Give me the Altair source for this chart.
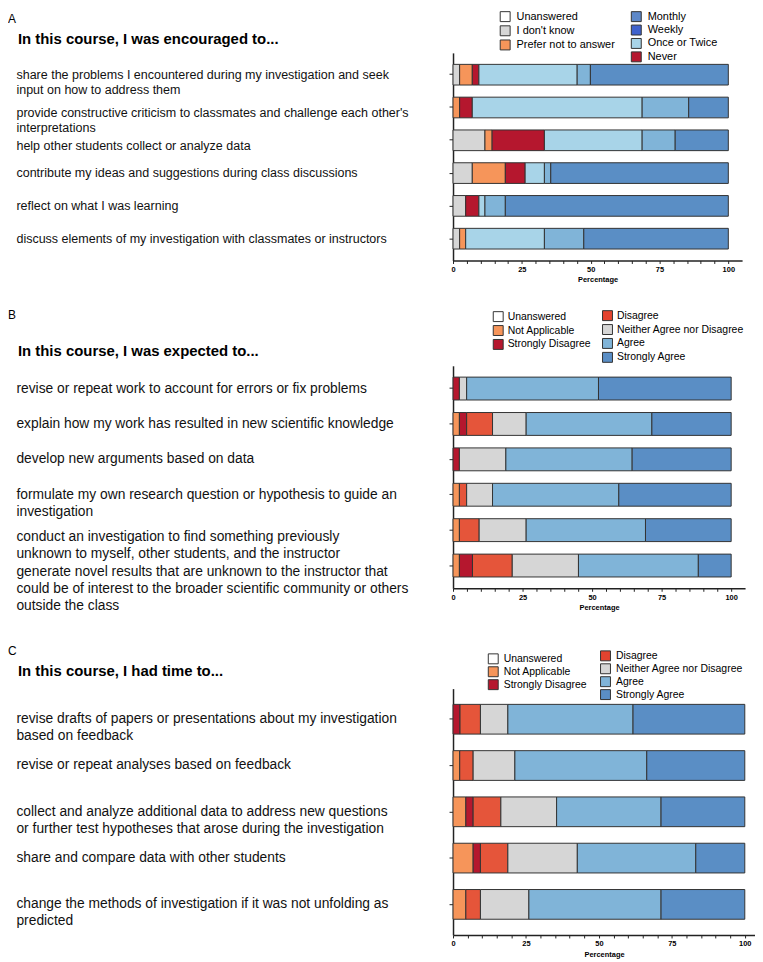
import json
import altair as alt
import pandas as pd

FONT = "Liberation Sans"

# ---------------- Panel A data ----------------
a_title = "In this course, I was encouraged to..."
a_items = [
    "share the problems I encountered during my investigation and seek\ninput on how to address them",
    "provide constructive criticism to classmates and challenge each other's\ninterpretations",
    "help other students collect or analyze data",
    "contribute my ideas and suggestions during class discussions",
    "reflect on what I was learning",
    "discuss elements of my investigation with classmates or instructors",
]
a_cats = ["Unanswered", "I don't know", "Prefer not to answer", "Never",
          "Once or Twice", "Weekly", "Monthly"]
a_unanswered = [0, 0, 0, 0, 0, 0]
a_dont_know = [2.4, 0, 11.6, 7.0, 4.6, 2.4]
a_prefer_not = [4.6, 2.4, 2.6, 12.0, 0, 2.2]
a_never = [2.4, 4.6, 19.0, 7.2, 4.8, 0]
a_once_twice = [35.7, 61.7, 35.5, 7.0, 2.2, 28.6]
a_weekly = [4.8, 16.9, 12.0, 2.3, 7.4, 14.3]
a_monthly = [50.1, 14.4, 19.3, 64.5, 81.0, 52.5]
a_legend_left = ["Unanswered", "I don't know", "Prefer not to answer"]
a_legend_right = ["Monthly", "Weekly", "Once or Twice", "Never"]

# ---------------- Panel B data ----------------
b_title = "In this course, I was expected to..."
b_items = [
    "revise or repeat work to account for errors or fix problems",
    "explain how my work has resulted in new scientific knowledge",
    "develop new arguments based on data",
    "formulate my own research question or hypothesis to guide an\ninvestigation",
    "conduct an investigation to find something previously\nunknown to myself, other students, and the instructor",
    "generate novel results that are unknown to the instructor that\ncould be of interest to the broader scientific community or others\noutside the class",
]
likert_cats = ["Unanswered", "Not Applicable", "Strongly Disagree", "Disagree",
               "Neither Agree nor Disagree", "Agree", "Strongly Agree"]
b_unanswered = [0, 0, 0, 0, 0, 0]
b_not_applicable = [0, 2.3, 0, 2.3, 2.3, 2.3]
b_strongly_disagree = [2.3, 2.6, 2.3, 0, 0, 4.7]
b_disagree = [0, 9.3, 0, 2.6, 7.1, 14.3]
b_neither = [2.6, 12.1, 16.7, 9.3, 16.9, 23.8]
b_agree = [47.4, 45.2, 45.4, 45.4, 42.9, 43.1]
b_strongly_agree = [47.7, 28.5, 35.6, 40.4, 30.8, 11.8]

# ---------------- Panel C data ----------------
c_title = "In this course, I had time to..."
c_items = [
    "revise drafts of papers or presentations about my investigation\nbased on feedback",
    "revise or repeat analyses based on feedback",
    "collect and analyze additional data to address new questions\nor further test hypotheses that arose during the investigation",
    "share and compare data with other students",
    "change the methods of investigation if it was not unfolding as\npredicted",
]
c_unanswered = [0, 0, 0, 0, 0]
c_not_applicable = [0, 2.3, 4.4, 6.9, 4.4]
c_strongly_disagree = [2.4, 0, 2.5, 2.5, 0]
c_disagree = [7.0, 4.6, 9.5, 9.4, 5.0]
c_neither = [9.4, 14.3, 19.1, 23.8, 16.6]
c_agree = [42.9, 45.2, 35.8, 40.6, 45.3]
c_strongly_agree = [38.3, 33.6, 28.7, 16.8, 28.7]

likert_legend_left = ["Unanswered", "Not Applicable", "Strongly Disagree"]
likert_legend_right = ["Disagree", "Neither Agree nor Disagree", "Agree", "Strongly Agree"]

# ---------------- styles ----------------
BAR_COLORS_A = {
    "Unanswered": "#ffffff", "I don't know": "#d6d6d6", "Prefer not to answer": "#f6955a",
    "Never": "#b5172e", "Once or Twice": "#a8d4e8", "Weekly": "#80b4d8", "Monthly": "#5a8ec5",
}
LEGEND_COLORS_A = dict(BAR_COLORS_A, Monthly="#5d88c9", Weekly="#3f62cd")
BAR_COLORS_L = {
    "Unanswered": "#ffffff", "Not Applicable": "#f6955a", "Strongly Disagree": "#b5172e",
    "Disagree": "#e5553a", "Neither Agree nor Disagree": "#d6d6d6", "Agree": "#80b4d8",
    "Strongly Agree": "#5a8ec5",
}
LEGEND_COLORS_L = dict(BAR_COLORS_L, Disagree="#e4432f")


def long_table(items, cats, series):
    rows = []
    for i, item in enumerate(items):
        start = 0.0
        for cat in cats:
            v = series[cat][i]
            if v > 0:
                rows.append({"item": item, "cat": cat, "start": start,
                             "end": start + v, "value": v})
            start += v
    return pd.DataFrame(rows)


def legend_layer(cats_subset, colors, lx, ly, row_pad, font_size, label_offset):
    d = pd.DataFrame({"cat": cats_subset})
    return alt.Chart(d).transform_filter("false").mark_square(opacity=1, filled=True).encode(
        x=alt.value(0), y=alt.value(0),
        fill=alt.Fill(
            "cat:N",
            scale=alt.Scale(domain=cats_subset, range=[colors[c] for c in cats_subset]),
            legend=alt.Legend(
                title=None, orient="none", legendX=lx, legendY=ly, direction="vertical",
                symbolType="square", symbolSize=100, symbolStrokeColor="#333",
                symbolStrokeWidth=1, symbolOpacity=1, labelFont=FONT,
                labelFontSize=font_size, labelColor="#000", labelOffset=label_offset,
                rowPadding=row_pad, padding=0, labelLimit=0,
            ),
        ),
    )


def text_layer(txt, x, y, size, weight="normal", opacity=1):
    return alt.Chart(pd.DataFrame({"t": [txt]})).mark_text(
        align="left", baseline="middle", font=FONT, fontSize=size,
        fontWeight=weight, color="#000", opacity=opacity,
    ).encode(x=alt.value(x), y=alt.value(y), text="t:N")


def panel(letter, title, items, cats, series, bar_colors, legend_colors,
          left_cats, right_cats, width, height, x_max, pad_inner, pad_outer,
          top_items, lay):
    df = long_table(items, cats, series)
    if top_items:
        test = "indexof([" + ",".join(json.dumps(s) for s in top_items) + "], datum.value) >= 0"
        baseline = {"condition": {"test": test, "value": "top"}, "value": "middle"}
    else:
        baseline = "middle"

    xaxis = alt.Axis(
        values=list(range(0, 101, 5)),
        labelExpr="datum.value % 25 === 0 ? datum.label : ''",
        format="d", title="Percentage", titleFont=FONT, titleFontSize=7.5,
        titleFontWeight="bold", titleColor="#000", titlePadding=3,
        labelFont=FONT, labelFontSize=7.5, labelFontWeight="bold", labelColor="#000",
        labelPadding=2, tickSize=3, tickColor="#222", tickWidth=1,
        domainColor="#222", domainWidth=1.5, grid=False, labelFlush=False,
        labelOverlap=False,
    )
    yaxis = alt.Axis(
        title=None, labelAlign="left", labelBaseline=baseline, labelPadding=436,
        tickSize=4, tickColor="#222", tickWidth=1, domainColor="#222", domainWidth=1.5,
        labelExpr="split(datum.label, '\\n')", labelLimit=0, labelFont=FONT,
        labelFontSize=lay["lfs"], labelLineHeight=lay["llh"], labelColor="#111",
        labelOverlap=False, grid=False,
    )
    bars = alt.Chart(df).mark_bar(stroke="#333", strokeWidth=1).encode(
        x=alt.X("start:Q", scale=alt.Scale(domain=[0, x_max], nice=False), axis=xaxis),
        x2="end:Q",
        y=alt.Y("item:N", sort=items,
                scale=alt.Scale(paddingInner=pad_inner, paddingOuter=pad_outer),
                axis=yaxis),
        fill=alt.Fill("cat:N", scale=alt.Scale(domain=cats, range=[bar_colors[c] for c in cats]),
                      legend=None),
    )
    layers = [
        bars,
        legend_layer(left_cats, legend_colors, lay["lx"], lay["ly"], lay["lrp"], lay["fs"], lay["lo"]),
        legend_layer(right_cats, legend_colors, lay["rx"], lay["ry"], lay["rrp"], lay["fs"], lay["lo"]),
        text_layer(letter, -448, lay["letter_y"], 12),
        text_layer(title, -438, lay["title_y"], 15, "bold"),
    ]
    if "spacer_y" in lay:
        layers.append(text_layer(".", -448, lay["spacer_y"], 12, opacity=0))
    return alt.layer(*layers).resolve_scale(fill="independent").resolve_legend(
        fill="independent").properties(width=width, height=height)


series_a = {"Unanswered": a_unanswered, "I don't know": a_dont_know,
            "Prefer not to answer": a_prefer_not, "Never": a_never,
            "Once or Twice": a_once_twice, "Weekly": a_weekly, "Monthly": a_monthly}
series_b = {"Unanswered": b_unanswered, "Not Applicable": b_not_applicable,
            "Strongly Disagree": b_strongly_disagree, "Disagree": b_disagree,
            "Neither Agree nor Disagree": b_neither, "Agree": b_agree,
            "Strongly Agree": b_strongly_agree}
series_c = {"Unanswered": c_unanswered, "Not Applicable": c_not_applicable,
            "Strongly Disagree": c_strongly_disagree, "Disagree": c_disagree,
            "Neither Agree nor Disagree": c_neither, "Agree": c_agree,
            "Strongly Agree": c_strongly_agree}

pA = panel("A", a_title, a_items, a_cats, series_a, BAR_COLORS_A, LEGEND_COLORS_A,
           a_legend_left, a_legend_right, 291, 209, 105, 0.37, 0.35,
           [a_items[1], a_items[2]],
           dict(lx=47, ly=-42, rx=179, ry=-42, lrp=-0.75, rrp=-1.5, fs=11, lo=6,
                letter_y=-34, title_y=-14, lfs=12.6, llh=15))
pB = panel("B", b_title, b_items, likert_cats, series_b, BAR_COLORS_L, LEGEND_COLORS_L,
           likert_legend_left, likert_legend_right, 294, 224, 105, 0.354, 0.32,
           [b_items[4], b_items[5]],
           dict(lx=40, ly=-55, rx=150, ry=-56, lrp=-1, rrp=-1, fs=10.5, lo=4,
                letter_y=-51, title_y=-15, spacer_y=-56, lfs=13.9, llh=17))
pC = panel("C", c_title, c_items, likert_cats, series_c, BAR_COLORS_L, LEGEND_COLORS_L,
           likert_legend_left, likert_legend_right, 304, 248, 103.5, 0.358, 0.34,
           [],
           dict(lx=35, ly=-35.5, rx=148, ry=-38.5, lrp=-2.5, rrp=-2.5, fs=10.5, lo=5,
                letter_y=-38, title_y=-18, spacer_y=-49, lfs=13.9, llh=17))

chart = alt.vconcat(pA, pB, pC, spacing=21).properties(
    padding=0, background="white"
).configure_view(stroke=None)

chart.save("out.html", embed_options={"renderer": "svg", "actions": False})
